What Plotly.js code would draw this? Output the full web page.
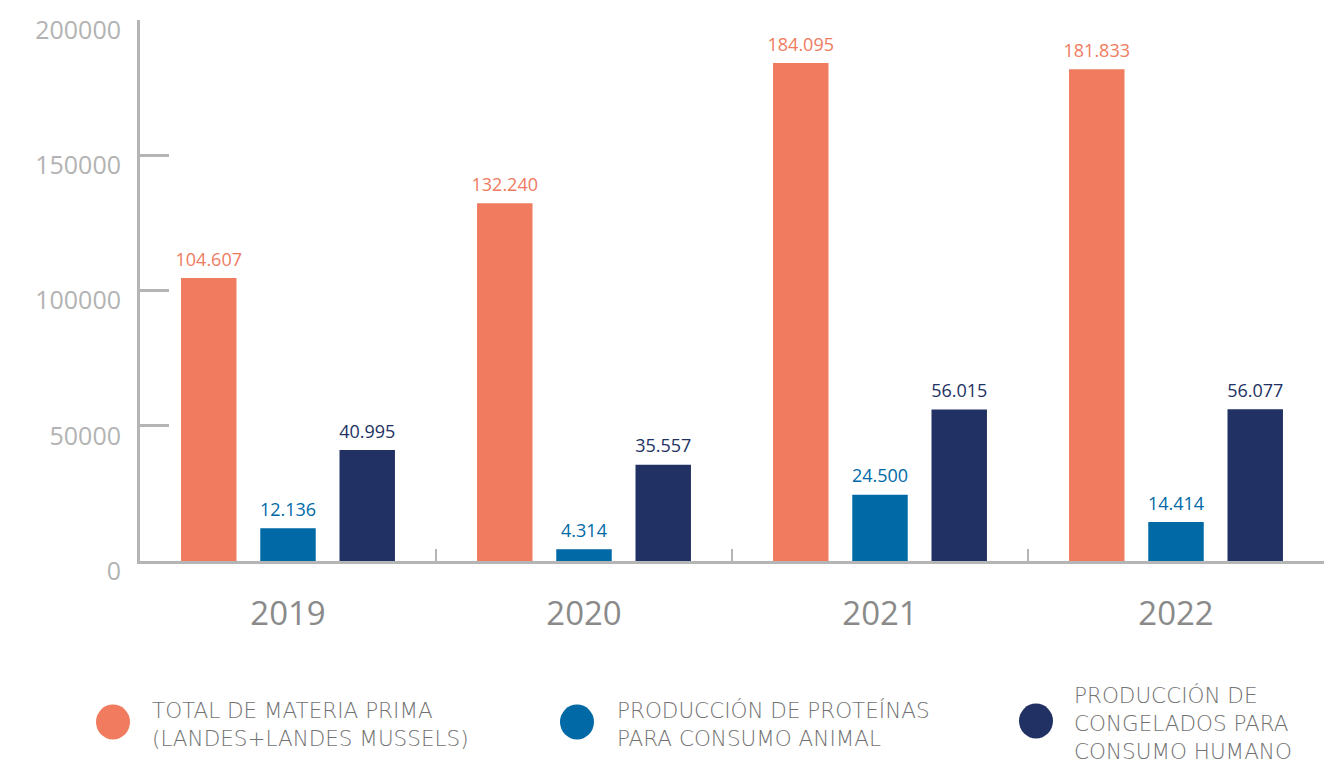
<!DOCTYPE html>
<html>
<head>
<meta charset="utf-8">
<script src="https://cdn.plot.ly/plotly-3.0.1.min.js"></script>
<style>html,body{margin:0;padding:0;background:#fff;}#chart{width:1324px;height:760px;}</style>
</head>
<body>
<div id="chart"></div>
<script>
const years = ["2019", "2020", "2021", "2022"];
const seriesNames = [
  "TOTAL DE MATERIA PRIMA<br>(LANDES+LANDES MUSSELS)",
  "PRODUCCIÓN DE PROTEÍNAS<br>PARA CONSUMO ANIMAL",
  "PRODUCCIÓN DE<br>CONGELADOS PARA<br>CONSUMO HUMANO"
];
const materiaPrima = [104607, 132240, 184095, 181833];
const proteinas = [12136, 4314, 24500, 14414];
const congelados = [40995, 35557, 56015, 56077];
const colors = ["#f07b5f", "#0069a6", "#223163"];
const yTicks = [0, 50000, 100000, 150000, 200000];

const fmt = v => v.toLocaleString("de-DE");
const font = "Open Sans, sans-serif";
const legendFont = "DejaVu Sans, sans-serif";
const values = [materiaPrima, proteinas, congelados];
const BARGAP = 0.197;

const bars = values.map((vals, i) => ({
  type: "bar",
  x: years,
  y: vals,
  name: seriesNames[i],
  marker: {color: colors[i]},
  hoverinfo: "skip"
}));
// value labels above the bars, grouped the same way as the bars
const labels = values.map((vals, i) => ({
  type: "scatter",
  mode: "markers+text",
  x: years,
  y: vals,
  marker: {size: 11, opacity: 0},
  text: vals.map(fmt),
  textposition: "top center",
  textfont: {family: font, size: 18, color: colors[i]},
  cliponaxis: false,
  showlegend: false,
  hoverinfo: "skip"
}));

// custom legend
const L = 140, W = 1184, T = 20, H = 541;
const px2x = p => (p - L) / W;
const px2y = p => (T + H - p) / H;
const legendPos = [[113, 722, 150, 724], [577, 722, 615, 724], [1036, 721, 1072, 723]];
const shapes = [], annotations = [];
legendPos.forEach((p, i) => {
  shapes.push({type: "circle", xref: "paper", yref: "paper",
    xsizemode: "pixel", ysizemode: "pixel",
    xanchor: px2x(p[0]), yanchor: px2y(p[1]),
    x0: -17, x1: 17, y0: -17.5, y1: 17.5,
    fillcolor: colors[i], line: {width: 0}});
  annotations.push({xref: "paper", yref: "paper", x: px2x(p[2]), y: px2y(p[3]),
    xanchor: "left", yanchor: "middle", align: "left", showarrow: false,
    text: seriesNames[i], font: {family: legendFont, size: 21.5, weight: 300, color: "#727272"}});
});

const layout = {
  width: 1324, height: 760,
  margin: {l: L, r: 0, t: T, b: 760 - T - H},
  paper_bgcolor: "#fff", plot_bgcolor: "#fff",
  barmode: "group", bargap: BARGAP, bargroupgap: 0.3,
  scattermode: "group", scattergap: BARGAP,
  showlegend: false,
  xaxis: {
    type: "category",
    showline: true, linecolor: "#b5b5b5", linewidth: 3,
    ticks: "inside", tickson: "boundaries", ticklen: 12, tickwidth: 2.5, tickcolor: "#b5b5b5",
    tickfont: {family: font, size: 33, color: "#8a8a8a"},
    ticklabelstandoff: 21,
    showgrid: false, zeroline: false, fixedrange: true
  },
  yaxis: {
    range: [0, 200000],
    tickvals: yTicks, ticktext: yTicks.map(String),
    showline: true, linecolor: "#b5b5b5", linewidth: 3,
    ticks: "inside", ticklen: 29, tickwidth: 3, tickcolor: "#b5b5b5",
    tickfont: {family: font, size: 25, color: "#b3b3b3"},
    ticklabelstandoff: 11, ticklabelshift: 10,
    showgrid: false, zeroline: false, fixedrange: true
  },
  shapes: shapes,
  annotations: annotations
};

Plotly.newPlot("chart", bars.concat(labels), layout, {displayModeBar: false, staticPlot: true});
</script>
</body>
</html>
